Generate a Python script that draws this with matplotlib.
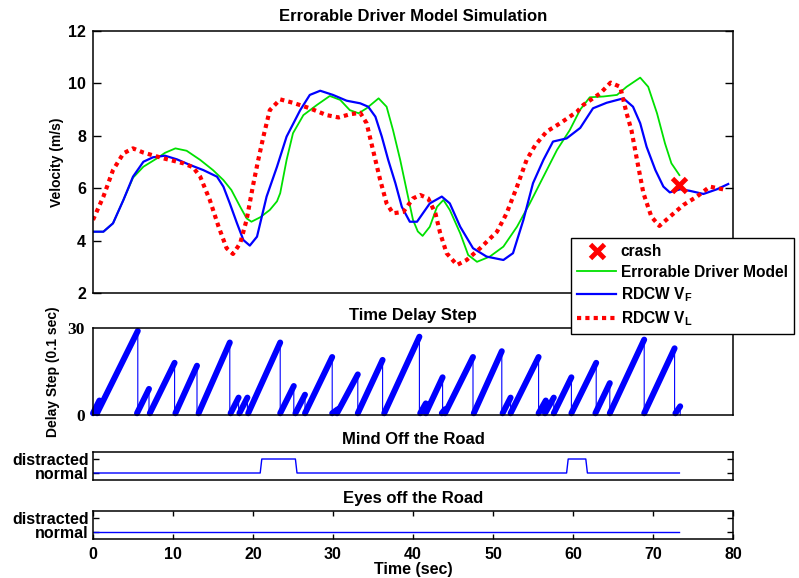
import matplotlib
matplotlib.use('Agg')
import matplotlib.pyplot as plt
import numpy as np

plt.rcParams['font.family'] = ['Liberation Sans', 'DejaVu Sans']
plt.rcParams['font.weight'] = 'bold'
plt.rcParams['font.size'] = 10
plt.rcParams['mathtext.fontset'] = 'custom'
plt.rcParams['mathtext.rm'] = 'Liberation Sans:bold'
plt.rcParams['mathtext.bf'] = 'Liberation Sans:bold'
plt.rcParams['axes.linewidth'] = 1.1

TICK_SIZE = 11.5

# velocity traces (time in sec, velocity in m/s)
t_model = [0.0, 1.3, 2.5, 3.8, 5.0, 6.3, 8.0, 9.0, 10.3, 11.7, 13.4, 15.0, 16.3, 17.3,
           18.4, 19.2, 19.8, 20.9, 22.1, 23.0, 23.4, 24.2, 25.0, 26.3, 28.0, 29.6,
           30.9, 32.1, 33.2, 34.2, 35.7, 36.7, 37.5, 38.4, 39.2, 40.0, 40.6, 41.2,
           42.1, 43.0, 43.8, 44.6, 45.9, 46.9, 48.0, 49.6, 51.3, 53.0, 54.6, 56.3,
           58.0, 59.6, 60.9, 62.1, 63.8, 65.5, 66.7, 68.4, 69.4, 70.5, 71.5, 72.3, 73.3]
v_model = [4.34, 4.34, 4.66, 5.55, 6.40, 6.82, 7.14, 7.35, 7.52, 7.43, 7.08, 6.69, 6.31, 5.93,
           5.29, 4.85, 4.72, 4.89, 5.17, 5.50, 5.81, 7.08, 8.10, 8.79, 9.18, 9.52,
           9.37, 8.98, 8.86, 9.05, 9.43, 9.11, 8.22, 7.08, 5.93, 4.79, 4.35, 4.18,
           4.53, 5.29, 5.55, 5.17, 4.28, 3.45, 3.19, 3.39, 3.77, 4.53, 5.42, 6.44,
           7.46, 8.22, 9.00, 9.47, 9.50, 9.56, 9.87, 10.22, 9.87, 8.86, 7.71, 6.95, 6.50]

t_vf = [0.0, 1.3, 2.5, 3.8, 5.0, 6.3, 7.5, 9.0, 10.5, 12.1, 13.8, 15.5, 16.3, 17.1,
        18.0, 18.8, 19.6, 20.5, 21.7, 23.0, 24.2, 25.9, 27.1, 28.4, 30.0, 31.7,
        33.4, 34.4, 35.3, 36.1, 36.9, 37.8, 38.6, 39.6, 40.5, 42.1, 43.6, 44.6,
        45.9, 47.5, 49.2, 51.3, 52.5, 53.8, 55.0, 56.3, 57.5, 59.2, 60.9, 62.5,
        64.2, 66.3, 67.5, 68.4, 69.2, 70.3, 71.3, 72.1, 73.4, 74.6, 76.3, 78.0, 79.4]
v_vf = [4.34, 4.34, 4.66, 5.55, 6.44, 7.01, 7.18, 7.24, 7.10, 6.89, 6.69, 6.44, 6.06, 5.42,
        4.66, 4.02, 3.81, 4.15, 5.68, 6.82, 7.97, 8.98, 9.56, 9.72, 9.56, 9.34,
        9.24, 9.11, 8.73, 7.97, 7.08, 6.19, 5.29, 4.72, 4.72, 5.42, 5.68, 5.42,
        4.53, 3.71, 3.39, 3.26, 3.52, 4.79, 6.19, 7.08, 7.78, 7.90, 8.30, 9.05,
        9.26, 9.43, 9.11, 8.48, 7.58, 6.69, 6.06, 5.84, 5.96, 5.90, 5.78, 5.96, 6.16]

t_vl = [0.0, 1.3, 2.5, 3.8, 5.0, 6.3, 8.8, 11.3, 12.5, 13.4, 14.6, 15.7, 16.7, 17.5,
        18.4, 19.2, 20.0, 20.6, 21.3, 22.1, 23.4, 25.0, 27.1, 29.2, 30.7, 32.1,
        33.4, 34.2, 35.0, 35.9, 36.7, 37.5, 38.8, 40.0, 40.9, 41.9, 42.8, 43.4,
        44.2, 45.5, 46.7, 48.4, 50.5, 51.7, 53.0, 54.2, 55.3, 56.7, 58.4, 60.5,
        61.3, 63.4, 64.7, 65.9, 66.7, 67.3, 68.0, 68.8, 69.8, 70.8, 72.1, 73.8,
        75.5, 77.1, 79.2]
v_vl = [4.79, 5.68, 6.69, 7.33, 7.52, 7.36, 7.14, 6.95, 6.80, 6.44, 5.55, 4.53, 3.71, 3.49,
        3.90, 4.79, 6.10, 7.00, 7.97, 8.98, 9.39, 9.26, 9.05, 8.79, 8.70, 8.82,
        8.88, 8.48, 7.46, 6.31, 5.42, 5.04, 5.10, 5.61, 5.74, 5.61, 5.04, 4.28,
        3.52, 3.07, 3.26, 3.71, 4.34, 5.04, 6.06, 7.08, 7.65, 8.16, 8.48, 8.92,
        9.18, 9.62, 10.03, 9.87, 8.86, 8.22, 7.08, 5.81, 4.91, 4.56, 4.91, 5.36,
        5.68, 6.06, 5.93]

crash_t = 73.2
crash_v = 6.12

# delay step sawtooth: each ramp starts at 0 and climbs to its peak
ramp_start = [0.0, 0.5, 5.5, 7.1, 10.3, 13.2, 17.2, 18.3, 19.4, 23.4, 25.3, 26.5, 29.9,
              30.5, 33.1, 36.4, 40.9, 41.6, 43.6, 44.0, 47.6, 51.2, 52.2, 55.7, 56.5,
              57.6, 59.8, 62.8, 64.6, 68.9, 72.8]
ramp_end = [0.8, 5.6, 7.0, 10.2, 13.0, 17.1, 18.2, 19.3, 23.4, 25.1, 26.5, 29.9, 30.6,
            33.1, 36.2, 40.8, 41.6, 43.7, 44.0, 47.5, 51.1, 52.2, 55.7, 56.6, 57.6,
            59.8, 62.9, 64.6, 68.9, 72.7, 73.4]
ramp_peak = [5, 29, 9, 18, 17, 25, 6, 6, 25, 10, 7, 20, 2,
             14, 19, 27, 4, 13, 2, 20, 22, 6, 20, 5, 6,
             13, 18, 11, 26, 23, 3]

# driver state: 0 = normal, 1 = distracted
mind_t = [0, 20.9, 21.1, 25.3, 25.5, 59.2, 59.4, 61.6, 61.8, 73.3]
mind_v = [0, 0, 1, 1, 0, 0, 1, 1, 0, 0]
eyes_t = [0, 73.3]
eyes_v = [0, 0]

fig = plt.figure(figsize=(7.99, 5.78), dpi=100)
W, H = 799.0, 578.0

def box(left, top, right, bottom):
    return [left / W, 1 - bottom / H, (right - left) / W, (bottom - top) / H]

ax1 = fig.add_axes(box(93, 31, 733, 293))
ax2 = fig.add_axes(box(93, 328, 733, 415))
ax3 = fig.add_axes(box(93, 452, 733, 480))
ax4 = fig.add_axes(box(93, 511, 733, 539))

# velocities
l_model, = ax1.plot(t_model, v_model, color='#00e000', lw=1.3, label='Errorable Driver Model')
l_vf, = ax1.plot(t_vf, v_vf, color='#0000ff', lw=1.6, label=r'RDCW V$_\mathbf{F}$')
l_vl, = ax1.plot(t_vl, v_vl, color='#ff0000', lw=3.0, dashes=(1, 1),
                 dash_capstyle='butt', label=r'RDCW V$_\mathbf{L}$')
l_crash, = ax1.plot([crash_t], [crash_v], 'x', color='#ff0000', ms=10, mew=3.5,
                    linestyle='none', label='crash')
ax1.set_xlim(0, 80)
ax1.set_ylim(2, 12)
ax1.set_yticks([2, 4, 6, 8, 10, 12])
ax1.set_xticks([])
ax1.tick_params(axis='y', direction='in', length=5.5, width=1, left=True, right=True,
                labelsize=TICK_SIZE, pad=5)
ax1.set_ylabel('Velocity (m/s)', fontweight='bold')
ax1.yaxis.set_label_coords(-0.045, 0.5)
ax1.set_title('Errorable Driver Model Simulation', fontweight='bold', pad=7)

# delay step
xs, ys = [], []
for s, e, p in zip(ramp_start, ramp_end, ramp_peak):
    xs += [s, e, e]
    ys += [0, p, 0]
ax2.plot(xs, ys, color='#0000ff', lw=0.8, clip_on=False)
rx, ry = [], []
for s, e, p in zip(ramp_start, ramp_end, ramp_peak):
    rx += [s, e, np.nan]
    ry += [0.6, p, np.nan]
ax2.plot(rx, ry, color='#0000ff', lw=4.3, solid_capstyle='round', clip_on=False)
ax2.set_xlim(0, 80)
ax2.set_ylim(0, 30)
ax2.set_xticks([])
ax2.set_yticks([0, 30])
ax2.set_yticklabels(['0', '30'], family=['Liberation Serif', 'DejaVu Serif'],
                    fontweight='bold', fontsize=12.5)
ax2.tick_params(axis='y', length=0, pad=6)
ax2.set_ylabel('Delay Step (0.1 sec)', fontweight='bold')
ax2.yaxis.set_label_coords(-0.051, 0.5)
ax2.set_title('Time Delay Step', fontweight='bold', pad=6)

# mind off / eyes off
for ax, t, v, title in [(ax3, mind_t, mind_v, 'Mind Off the Road'),
                        (ax4, eyes_t, eyes_v, 'Eyes off the Road')]:
    ax.plot(t, v, color='#0000ff', lw=1.0)
    ax.set_xlim(0, 80)
    ax.set_ylim(-0.5, 1.5)
    ax.set_yticks([0, 1])
    ax.set_yticklabels(['normal', 'distracted'], fontweight='bold')
    ax.tick_params(axis='y', direction='in', length=4, width=1, left=True, right=True,
                   pad=3, labelsize=TICK_SIZE)
    ax.set_title(title, fontweight='bold', pad=6)

ax3.set_xticks([])
ax4.set_xticks(np.arange(0, 81, 10))
ax4.tick_params(axis='x', direction='in', length=3.5, width=1, top=True, bottom=True,
                pad=6, labelsize=TICK_SIZE)
ax4.set_xlabel('Time (sec)', fontweight='bold', fontsize=11.5, labelpad=0)

leg = fig.legend(handles=[l_crash, l_model, l_vf, l_vl], loc='upper left',
                 bbox_to_anchor=(571 / W, 1 - 238 / H), borderaxespad=0,
                 fancybox=False, edgecolor='black', framealpha=1,
                 handlelength=2.5, handletextpad=0.3, borderpad=0.4,
                 labelspacing=0.35, prop={'weight': 'bold', 'size': 11.2})
leg.get_frame().set_linewidth(1.0)

fig.savefig('out.png', dpi=100)
